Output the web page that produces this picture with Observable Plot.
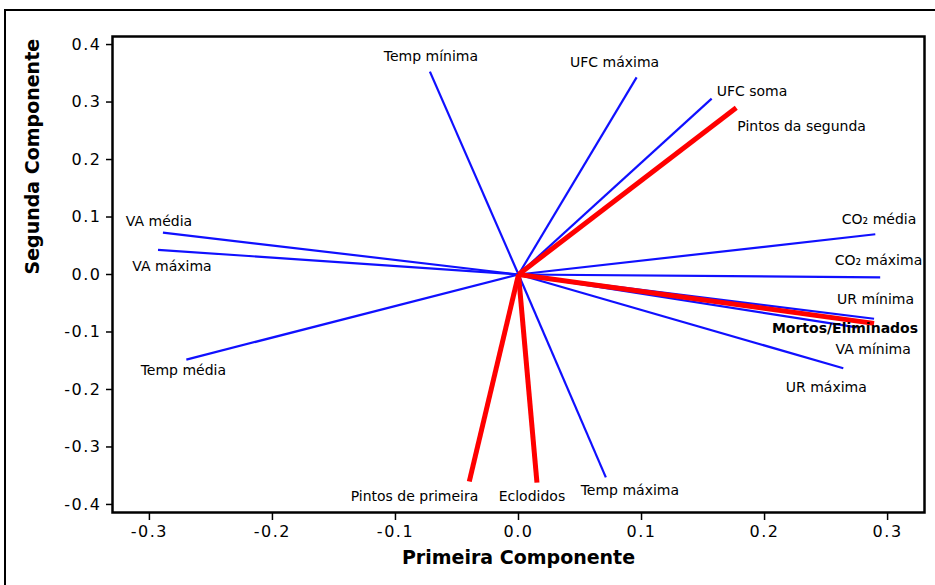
<!DOCTYPE html>
<html>
<head>
<meta charset="utf-8">
<script src="https://cdn.jsdelivr.net/npm/d3@7"></script>
<script src="https://cdn.jsdelivr.net/npm/@observablehq/plot@0.6"></script>
<style>
  html, body { margin: 0; padding: 0; background: #fff; overflow: hidden; }
  #chart { position: relative; width: 935px; height: 585px; }
  #chart .sheet {
    position: absolute; left: 4px; top: 9px; width: 1000px; height: 1000px;
    border: 2px solid #000; pointer-events: none; z-index: 2;
  }
  #chart svg { position: absolute; left: 0; top: 0; }
  #chart svg [aria-label="x-axis tick label"] text,
  #chart svg [aria-label="y-axis tick label"] text { letter-spacing: 1.5px; }
</style>
</head>
<body>
<div id="chart"><div class="sheet"></div></div>
<script>
// Loadings of each variable on the first two principal components
const variables = [
  "Temp mínima", "UFC máxima", "UFC soma", "Pintos da segunda",
  "CO₂ média", "CO₂ máxima", "UR mínima", "Mortos/Eliminados",
  "VA mínima", "UR máxima", "VA média", "VA máxima",
  "Temp média", "Pintos de primeira", "Eclodidos", "Temp máxima"
];
const pc1 = [
  -0.072, 0.096, 0.157, 0.177,
   0.290, 0.294, 0.289, 0.289,
   0.275, 0.264, -0.289, -0.293,
  -0.270, -0.040, 0.015, 0.071
];
const pc2 = [
   0.353, 0.343, 0.306, 0.290,
   0.070, -0.005, -0.077, -0.085,
  -0.092, -0.163, 0.073, 0.043,
  -0.148, -0.360, -0.362, -0.353
];
// "resposta" = hatchery outcome variables, "ambiente" = environmental variables
const grupo = [
  "ambiente", "ambiente", "ambiente", "resposta",
  "ambiente", "ambiente", "ambiente", "resposta",
  "ambiente", "ambiente", "ambiente", "ambiente",
  "ambiente", "resposta", "resposta", "ambiente"
];
const xTicks = [-0.3, -0.2, -0.1, 0.0, 0.1, 0.2, 0.3];
const yTicks = [-0.4, -0.3, -0.2, -0.1, 0.0, 0.1, 0.2, 0.3, 0.4];

// Where each label sits relative to the tip of its vector: [dx, dy, anchor]
const labelPlacement = {
  "Temp mínima": [1, -15, "middle"],
  "UFC máxima": [-22, -15, "middle"],
  "UFC soma": [5, -7, "start"],
  "Pintos da segunda": [1, 19, "start"],
  "CO₂ média": [41, -15, "end"],
  "CO₂ máxima": [42, -17, "end"],
  "UR mínima": [40, -19, "end"],
  "Mortos/Eliminados": [44, 5, "end"],
  "VA mínima": [54, 22, "end"],
  "UR máxima": [-17, 19, "middle"],
  "VA média": [-4, -11, "middle"],
  "VA máxima": [14, 17, "middle"],
  "Temp média": [-3, 11, "middle"],
  "Pintos de primeira": [9, 15, "end"],
  "Eclodidos": [-5, 14, "middle"],
  "Temp máxima": [24, 13, "middle"]
};

const idx = d3.range(variables.length);
const amb = idx.filter(i => grupo[i] === "ambiente");
const resp = idx.filter(i => grupo[i] === "resposta");

const vectors = (ids, color, width) => Plot.link(ids, {
  x1: () => 0, y1: () => 0,
  x2: i => pc1[i], y2: i => pc2[i],
  stroke: color, strokeWidth: width, strokeLinecap: "butt"
});

const labels = idx.map(i => {
  const [dx, dy, anchor] = labelPlacement[variables[i]];
  const bold = variables[i] === "Mortos/Eliminados";
  return Plot.text([i], {
    x: i => pc1[i], y: i => pc2[i], text: i => variables[i],
    dx, dy, textAnchor: anchor,
    fontSize: 14, fontWeight: bold ? "bold" : "normal", fill: "#000"
  });
});

const chart = Plot.plot({
  width: 935,
  height: 585,
  marginLeft: 112,
  marginTop: 36,
  marginRight: 11,
  marginBottom: 73,
  style: { fontFamily: "DejaVu Sans", fontSize: "16px", color: "#000", background: "transparent" },
  x: { domain: [-0.33, 0.33] },
  y: { domain: [-0.414, 0.414] },
  marks: [
    vectors(amb, "#1010ff", 2.2),
    vectors(resp, "#ff0000", 5),
    ...labels,
    Plot.frame({ stroke: "#000", strokeWidth: 2.5 }),
    Plot.axisX({ ticks: xTicks, tickFormat: d => d.toFixed(1), tickSize: 8, tickPadding: 5, label: null, stroke: "#000", strokeWidth: 1.5 }),
    Plot.axisY({ ticks: yTicks, tickFormat: d => d.toFixed(1), tickSize: 6, tickPadding: 5, label: null, stroke: "#000", strokeWidth: 1.5 }),
    Plot.text(["Primeira Componente"], { frameAnchor: "bottom", dy: 51, fontSize: 19, fontWeight: "bold" }),
    Plot.text(["Segunda Componente"], { frameAnchor: "left", dx: -80, rotate: -90, fontSize: 19, fontWeight: "bold" })
  ]
});

document.getElementById("chart").appendChild(chart);
</script>
</body>
</html>
